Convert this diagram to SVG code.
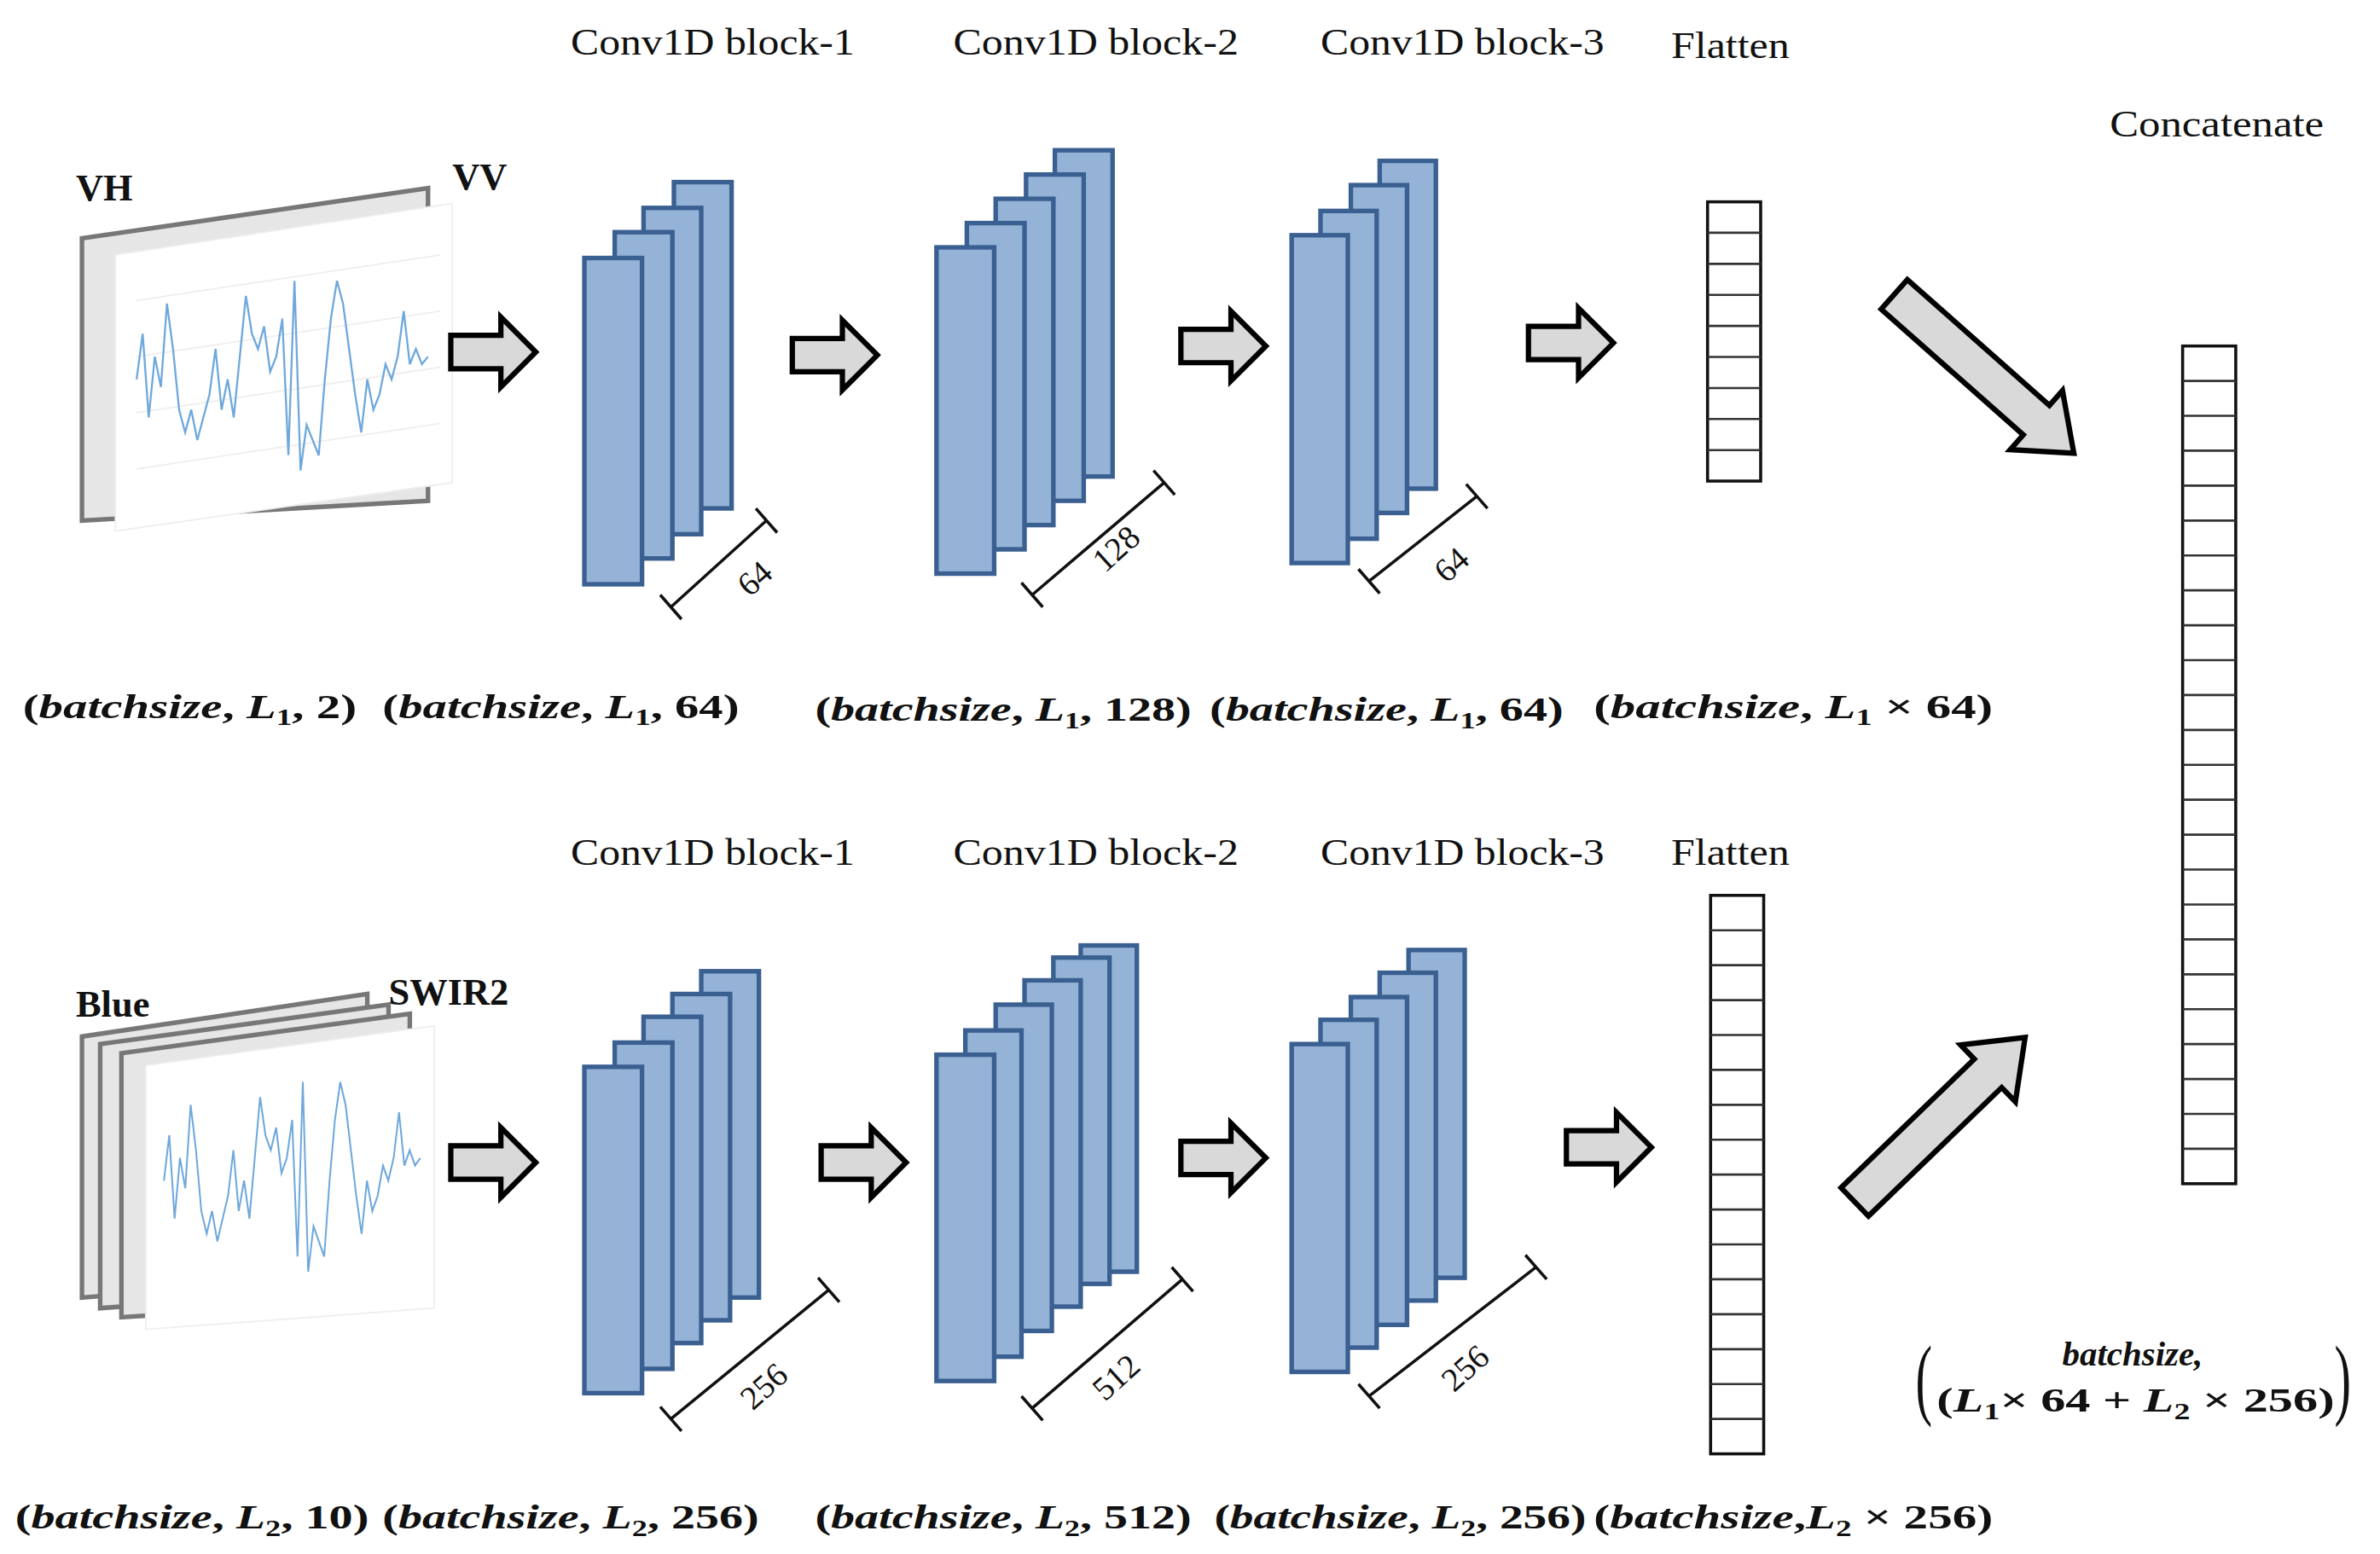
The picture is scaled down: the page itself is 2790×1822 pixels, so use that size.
<svg xmlns="http://www.w3.org/2000/svg" width="2790" height="1822" viewBox="0 0 2790 1822">
<style>
.t{font-family:"Liberation Serif",serif;font-size:25px;fill:#111}
.m{font-family:"Liberation Serif",serif;font-size:23px;font-weight:bold;fill:#111}
.i{font-style:italic}
.s{font-size:15px}
.b{fill:#95b3d7;stroke:#3a5f91;stroke-width:3}
.c{fill:#fff;stroke:#111;stroke-width:2}
.cl{fill:none;stroke:#333;stroke-width:1.5}
.arr{fill:#d9d9d9;stroke:#000;stroke-width:3.5;stroke-linejoin:miter}
.dim{fill:none;stroke:#111;stroke-width:2}
.w{fill:none;stroke:#6fa8dc;stroke-width:1.3}
.lbl{font-family:"Liberation Serif",serif;font-size:22px;fill:#111}
</style>
<defs>
<path id="ra" d="M0,-11 H33 V-23 L56,0 L33,23 V11 H0 Z"/>
<polyline id="wave" points="0,10 4,-20 8,35 12,-5 16,15 20,-40 24,-10 28,30 32,45 36,30 40,50 44,35 48,20 52,-10 56,30 60,10 64,35 68,-5 72,-45 76,-20 80,-10 84,-25 88,5 92,-5 96,-30 100,60 104,-55 108,70 112,40 116,50 120,60 124,10 128,-30 132,-55 136,-40 140,-10 144,20 148,45 152,10 156,30 160,20 164,0 168,10 172,-5 176,-35 180,0 184,-10 188,0 192,-5"/>
</defs>
<rect width="2790" height="1822" fill="#fff"/>
<g transform="scale(1.7793)">
<g id="titles">
<text class="t" x="376" y="36" textLength="187" lengthAdjust="spacingAndGlyphs">Conv1D block-1</text>
<text class="t" x="628" y="36" textLength="188" lengthAdjust="spacingAndGlyphs">Conv1D block-2</text>
<text class="t" x="870" y="36" textLength="187" lengthAdjust="spacingAndGlyphs">Conv1D block-3</text>
<text class="t" x="1101" y="38" textLength="78" lengthAdjust="spacingAndGlyphs">Flatten</text>
<text class="t" x="1390" y="90" textLength="141" lengthAdjust="spacingAndGlyphs">Concatenate</text>
<text class="t" x="376" y="570" textLength="187" lengthAdjust="spacingAndGlyphs">Conv1D block-1</text>
<text class="t" x="628" y="570" textLength="188" lengthAdjust="spacingAndGlyphs">Conv1D block-2</text>
<text class="t" x="870" y="570" textLength="187" lengthAdjust="spacingAndGlyphs">Conv1D block-3</text>
<text class="t" x="1101" y="570" textLength="78" lengthAdjust="spacingAndGlyphs">Flatten</text>
</g>
<g id="input-top">
<polygon points="54,157 282,124 282,330 54,343" fill="#e6e6e6" stroke="#777" stroke-width="3"/>
<polygon points="76,168 298,134 298,318 76,350" fill="#fff" stroke="#eee" stroke-width="1"/>
<g stroke="#eee" stroke-width="1"><line x1="90" y1="198" x2="290" y2="168"/><line x1="90" y1="235" x2="290" y2="205"/><line x1="90" y1="272" x2="290" y2="242"/><line x1="90" y1="309" x2="290" y2="279"/></g>
<use href="#wave" class="w" transform="translate(90,240)"/>
<text class="t" x="50" y="132" font-weight="bold">VH</text>
<text class="t" x="298" y="125" font-weight="bold">VV</text>
</g>
<g id="input-bottom">
<polygon points="54,683 242,655 242,840 54,855" fill="#e6e6e6" stroke="#777" stroke-width="3"/>
<polygon points="66,688 256,662 256,848 66,862" fill="#e6e6e6" stroke="#777" stroke-width="3"/>
<polygon points="80,694 270,668 270,856 80,868" fill="#e6e6e6" stroke="#777" stroke-width="3"/>
<polygon points="96,702 286,676 286,862 96,876" fill="#fff" stroke="#eee" stroke-width="1"/>
<use href="#wave" class="w" transform="translate(108,768) scale(0.88,1)"/>
<text class="t" x="50" y="670" font-weight="bold">Blue</text>
<text class="t" x="256" y="662" font-weight="bold">SWIR2</text>
</g>
<g id="block1-top">
<rect class="b" x="444" y="120" width="38" height="215"/>
<rect class="b" x="424" y="137" width="38" height="215"/>
<rect class="b" x="405" y="153" width="38" height="215"/>
<rect class="b" x="385" y="170" width="38" height="215"/>
<path class="dim" d="M442,400 L505,343 M435,392 L449,408 M498,335 L512,351"/>
<text class="lbl" transform="translate(494,394) rotate(-42)">64</text>
</g>
<g id="block2-top">
<rect class="b" x="695" y="99" width="38" height="215"/>
<rect class="b" x="676" y="115" width="38" height="215"/>
<rect class="b" x="656" y="131" width="38" height="215"/>
<rect class="b" x="637" y="147" width="38" height="215"/>
<rect class="b" x="617" y="163" width="38" height="215"/>
<path class="dim" d="M680,392 L767,318 M673,384 L687,400 M760,310 L774,326"/>
<text class="lbl" transform="translate(728,378) rotate(-42)">128</text>
</g>
<g id="block3-top">
<rect class="b" x="909" y="106" width="37" height="216"/>
<rect class="b" x="890" y="122" width="37" height="216"/>
<rect class="b" x="870" y="139" width="37" height="216"/>
<rect class="b" x="851" y="155" width="37" height="216"/>
<path class="dim" d="M902,383 L973,327 M895,375 L909,391 M966,319 L980,335"/>
<text class="lbl" transform="translate(953,385) rotate(-42)">64</text>
</g>
<g id="flatten-top">
<rect class="c" x="1125" y="133" width="35" height="184"/>
<path class="cl" d="M1125,153.4h35M1125,173.9h35M1125,194.3h35M1125,214.8h35M1125,235.2h35M1125,255.7h35M1125,276.1h35M1125,296.6h35"/>
</g>
<g id="block1-bottom">
<rect class="b" x="462" y="640" width="38" height="215"/>
<rect class="b" x="443" y="655" width="38" height="215"/>
<rect class="b" x="424" y="670" width="38" height="215"/>
<rect class="b" x="405" y="687" width="38" height="215"/>
<rect class="b" x="385" y="703" width="38" height="215"/>
<path class="dim" d="M442,935 L546,850 M435,927 L449,943 M539,842 L553,858"/>
<text class="lbl" transform="translate(496,930) rotate(-42)">256</text>
</g>
<g id="block2-bottom">
<rect class="b" x="712" y="623" width="37" height="215"/>
<rect class="b" x="694" y="631" width="37" height="215"/>
<rect class="b" x="675" y="646" width="37" height="215"/>
<rect class="b" x="656" y="662" width="37" height="215"/>
<rect class="b" x="636" y="679" width="37" height="215"/>
<rect class="b" x="617" y="695" width="38" height="215"/>
<path class="dim" d="M680,928 L779,843 M673,920 L687,936 M772,835 L786,851"/>
<text class="lbl" transform="translate(728,924) rotate(-42)">512</text>
</g>
<g id="block3-bottom">
<rect class="b" x="928" y="626" width="37" height="216"/>
<rect class="b" x="909" y="641" width="37" height="216"/>
<rect class="b" x="890" y="657" width="37" height="216"/>
<rect class="b" x="870" y="672" width="37" height="216"/>
<rect class="b" x="851" y="688" width="37" height="216"/>
<path class="dim" d="M902,920 L1012,835 M895,912 L909,928 M1005,827 L1019,843"/>
<text class="lbl" transform="translate(958,918) rotate(-42)">256</text>
</g>
<g id="flatten-bottom">
<rect class="c" x="1127" y="590" width="35" height="368"/>
<path class="cl" d="M1127,613h35M1127,636h35M1127,659h35M1127,682h35M1127,705h35M1127,728h35M1127,751h35M1127,774h35M1127,797h35M1127,820h35M1127,843h35M1127,866h35M1127,889h35M1127,912h35M1127,935h35"/>
</g>
<g id="concat">
<rect class="c" x="1438" y="228" width="35" height="552"/>
<path class="cl" d="M1438,251h35M1438,274h35M1438,297h35M1438,320h35M1438,343h35M1438,366h35M1438,389h35M1438,412h35M1438,435h35M1438,458h35M1438,481h35M1438,504h35M1438,527h35M1438,550h35M1438,573h35M1438,596h35M1438,619h35M1438,642h35M1438,665h35M1438,688h35M1438,711h35M1438,734h35M1438,757h35"/>
</g>
<g id="connectors">
<use href="#ra" class="arr" x="297" y="232"/>
<use href="#ra" class="arr" x="522" y="234"/>
<use href="#ra" class="arr" x="778" y="228"/>
<use href="#ra" class="arr" x="1007" y="226"/>
<use href="#ra" class="arr" x="297" y="766"/>
<use href="#ra" class="arr" x="541" y="766"/>
<use href="#ra" class="arr" x="778" y="763"/>
<use href="#ra" class="arr" x="1032" y="756"/>
<path class="arr" transform="translate(1248,194) rotate(41.5)" d="M0,-13 H125 V-26 L158,0 L125,26 V13 H0 Z"/>
<path class="arr" transform="translate(1222,792) rotate(-44)" d="M0,-13 H122 V-26 L156,0 L122,26 V13 H0 Z"/>
</g>
<g id="shapes-top">
<text class="m" x="15" y="473" textLength="220" lengthAdjust="spacingAndGlyphs">(<tspan class="i">batchsize</tspan>, <tspan class="i">L</tspan><tspan class="s" dy="5">1</tspan><tspan dy="-5">, 2)</tspan></text>
<text class="m" x="252" y="473" textLength="235" lengthAdjust="spacingAndGlyphs">(<tspan class="i">batchsize</tspan>, <tspan class="i">L</tspan><tspan class="s" dy="5">1</tspan><tspan dy="-5">, 64)</tspan></text>
<text class="m" x="537" y="475" textLength="248" lengthAdjust="spacingAndGlyphs">(<tspan class="i">batchsize</tspan>, <tspan class="i">L</tspan><tspan class="s" dy="5">1</tspan><tspan dy="-5">, 128)</tspan></text>
<text class="m" x="797" y="475" textLength="233" lengthAdjust="spacingAndGlyphs">(<tspan class="i">batchsize</tspan>, <tspan class="i">L</tspan><tspan class="s" dy="5">1</tspan><tspan dy="-5">, 64)</tspan></text>
<text class="m" x="1050" y="473" textLength="263" lengthAdjust="spacingAndGlyphs">(<tspan class="i">batchsize</tspan>,  <tspan class="i">L</tspan><tspan class="s" dy="5">1</tspan><tspan dy="-5"> ×  64)</tspan></text>
</g>
<g id="shapes-bottom">
<text class="m" x="10" y="1007" textLength="233" lengthAdjust="spacingAndGlyphs">(<tspan class="i">batchsize</tspan>, <tspan class="i">L</tspan><tspan class="s" dy="5">2</tspan><tspan dy="-5">, 10)</tspan></text>
<text class="m" x="252" y="1007" textLength="248" lengthAdjust="spacingAndGlyphs">(<tspan class="i">batchsize</tspan>, <tspan class="i">L</tspan><tspan class="s" dy="5">2</tspan><tspan dy="-5">, 256)</tspan></text>
<text class="m" x="537" y="1007" textLength="248" lengthAdjust="spacingAndGlyphs">(<tspan class="i">batchsize</tspan>, <tspan class="i">L</tspan><tspan class="s" dy="5">2</tspan><tspan dy="-5">, 512)</tspan></text>
<text class="m" x="800" y="1007" textLength="245" lengthAdjust="spacingAndGlyphs">(<tspan class="i">batchsize</tspan>, <tspan class="i">L</tspan><tspan class="s" dy="5">2</tspan><tspan dy="-5">, 256)</tspan></text>
<text class="m" x="1050" y="1007" textLength="263" lengthAdjust="spacingAndGlyphs">(<tspan class="i">batchsize</tspan>,<tspan class="i">L</tspan><tspan class="s" dy="5">2</tspan><tspan dy="-5"> ×  256)</tspan></text>
</g>
<g id="shape-concat">
<text x="1262" y="928" style="font-family:'Liberation Serif',serif;font-size:60px;fill:#111" transform="translate(1262,928) scale(0.55,1) translate(-1262,-928)">(</text>
<text x="1538" y="928" style="font-family:'Liberation Serif',serif;font-size:60px;fill:#111" transform="translate(1538,928) scale(0.55,1) translate(-1538,-928)">)</text>
<text class="m i" x="1405" y="900" text-anchor="middle">batchsize,</text>
<text class="m" x="1276" y="930" textLength="262" lengthAdjust="spacingAndGlyphs">(<tspan class="i">L</tspan><tspan class="s" dy="5">1</tspan><tspan dy="-5">×  64 + </tspan><tspan class="i">L</tspan><tspan class="s" dy="5">2</tspan><tspan dy="-5"> ×  256)</tspan></text>
</g>
</g>
</svg>
